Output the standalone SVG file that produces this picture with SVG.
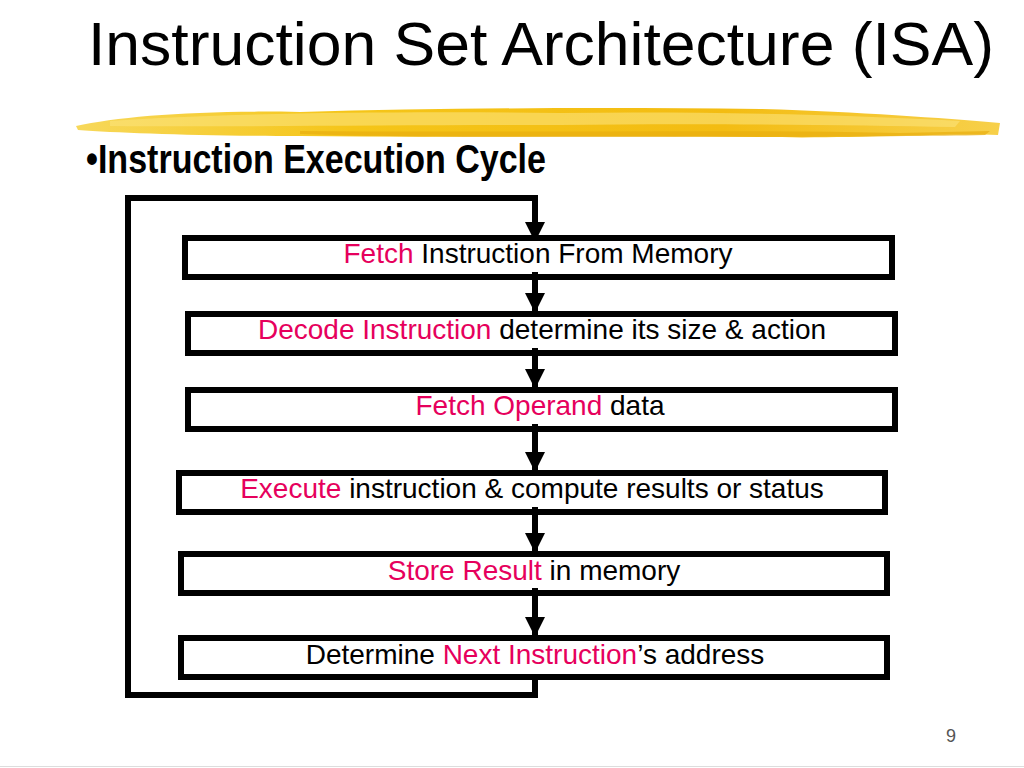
<svg xmlns="http://www.w3.org/2000/svg" width="1024" height="768" viewBox="0 0 1024 768">
<style>
.box{fill:#fff;stroke:#000;stroke-width:6}
.lbl{font-family:"Liberation Sans",Arial,sans-serif;font-size:28px;fill:#000;text-anchor:middle}
.hl{fill:#E6005C}
.conn{fill:none;stroke:#000;stroke-width:6}
</style>
<defs>
<marker id="ah" markerUnits="userSpaceOnUse" markerWidth="22" markerHeight="20" refX="20" refY="10" orient="auto">
<path d="M0,0 L20,10 L0,20 Z" fill="#000"/>
</marker>
<linearGradient id="brush" x1="0" y1="0" x2="1" y2="0">
<stop offset="0" stop-color="#F7D85A"/>
<stop offset="0.3" stop-color="#F5C518"/>
<stop offset="0.7" stop-color="#F3BC12"/>
<stop offset="1" stop-color="#F7D04A"/>
</linearGradient>
</defs>
<rect width="1024" height="768" fill="#fff"/>
<g id="title">
<text x="88" y="65" font-family="'Liberation Sans',Arial,sans-serif" font-size="62" fill="#000" textLength="906" lengthAdjust="spacingAndGlyphs">Instruction Set Architecture (ISA)</text>
</g>
<g id="brushstroke">
<path d="M76,126 C120,116 200,110 300,112 C450,108 600,107 760,109 C860,112 940,118 1000,123 L998,135 C930,133 860,139 760,137 C600,135 450,138 300,136 C200,136 120,133 78,130 Z" fill="url(#brush)"/>
<path d="M110,121 C220,113 400,111 560,113 C700,111 850,115 960,121 L955,127 C850,125 700,123 560,125 C400,125 220,127 110,126 Z" fill="#FBE27A" opacity="0.6"/>
<path d="M300,131 C500,133 700,129 900,133 L990,131 L985,135 C900,137 700,137 500,137 C400,137 340,135 300,134 Z" fill="#E8AE10" opacity="0.7"/>
</g>
<g id="subtitle">
<text x="86" y="173" font-family="'Liberation Sans Narrow','Liberation Sans',Arial,sans-serif" font-weight="bold" font-size="40" fill="#000" textLength="460" lengthAdjust="spacingAndGlyphs">•Instruction Execution Cycle</text>
</g>
<g id="connectors">
<path class="conn" d="M535,672 V695 H128 V198 H535 V242" marker-end="url(#ah)"/>
</g>
<g id="n1">
<rect class="box" x="185" y="238" width="707" height="39"/>
<text class="lbl" x="538" y="263"><tspan class="hl">Fetch</tspan> Instruction From Memory</text>
</g>
<g id="n2">
<rect class="box" x="188" y="314" width="707" height="39"/>
<text class="lbl" x="542" y="339"><tspan class="hl">Decode Instruction</tspan> determine its size &amp; action</text>
</g>
<g id="n3">
<rect class="box" x="188" y="390" width="707" height="39"/>
<text class="lbl" x="540" y="415"><tspan class="hl">Fetch Operand</tspan> data</text>
</g>
<g id="n4">
<rect class="box" x="179" y="473" width="706" height="39"/>
<text class="lbl" x="532" y="498"><tspan class="hl">Execute</tspan> instruction &amp; compute results or status</text>
</g>
<g id="n5">
<rect class="box" x="181" y="554" width="706" height="39"/>
<text class="lbl" x="534" y="580"><tspan class="hl">Store Result</tspan> in memory</text>
</g>
<g id="n6">
<rect class="box" x="181" y="638" width="706" height="39"/>
<text class="lbl" x="535" y="664">Determine <tspan class="hl">Next Instruction</tspan>’s address</text>
</g>
<g id="arrows">
<path class="conn" d="M535,272 V313" marker-end="url(#ah)"/>
<path class="conn" d="M535,348 V389" marker-end="url(#ah)"/>
<path class="conn" d="M535,424 V472" marker-end="url(#ah)"/>
<path class="conn" d="M535,507 V553" marker-end="url(#ah)"/>
<path class="conn" d="M535,588 V637" marker-end="url(#ah)"/>
</g>
<g id="pagenum">
<text x="951" y="742" font-family="'Liberation Sans',Arial,sans-serif" font-size="18" fill="#555" text-anchor="middle">9</text>
</g>
<line x1="0" y1="766.5" x2="1024" y2="766.5" stroke="#ddd" stroke-width="1"/>
</svg>
